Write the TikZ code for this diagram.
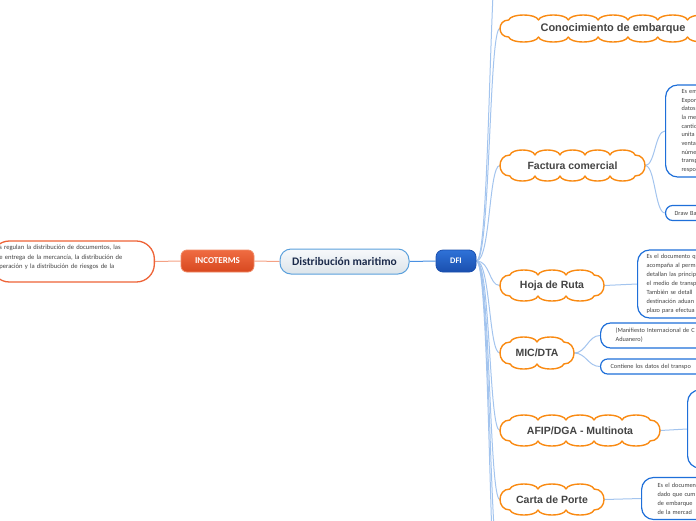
\documentclass[tikz,border=0pt]{standalone}
\usepackage{fontspec}
\setmainfont{Liberation Sans}
\newfontfamily\calfam{Carlito}
\usetikzlibrary{backgrounds}
\definecolor{cloudor}{HTML}{F98A12}
\definecolor{bluebd}{HTML}{1E6FD9}
\definecolor{linkbl}{HTML}{A3C4EE}
\definecolor{mainlk}{HTML}{4A90E2}
\definecolor{txtgray}{HTML}{444444}
\definecolor{incotop}{HTML}{EF6C42}
\definecolor{incobot}{HTML}{D8481F}
\definecolor{incobd}{HTML}{F08A66}
\definecolor{incoline}{HTML}{F4A184}
\definecolor{leftbd}{HTML}{EE6337}
\definecolor{maintop}{HTML}{F7F9FB}
\definecolor{mainbot}{HTML}{DCE4EA}
\definecolor{mainbd}{HTML}{5AA0DC}
\definecolor{maintxt}{HTML}{1B2A4A}
\definecolor{dfitop}{HTML}{2F72D8}
\definecolor{dfibot}{HTML}{1A4FAE}
% cloud outline: centre x, centre y, width, height, bumps per side
\newcommand\drawcloud[5]{%
 \pgfmathsetmacro\cdL{#1-#3/2+0.32*#4}%
 \pgfmathsetmacro\cdR{#1+#3/2-0.32*#4}%
 \pgfmathsetmacro\cdT{#2-#4/2+5}%
 \pgfmathsetmacro\cdB{#2+#4/2-5}%
 \pgfmathsetmacro\cdS{(\cdR-\cdL)/#5}%
 \pgfmathsetmacro\cdE{0.32*#4*1.333}%
 \filldraw[cloudline] (\cdL,\cdT)
   \foreach \i in {1,...,#5} { .. controls ({\cdL+(\i-1)*\cdS+0.08*\cdS},{\cdT-6.7}) and ({\cdL+\i*\cdS-0.08*\cdS},{\cdT-6.7}) .. ({\cdL+\i*\cdS},\cdT) }
   .. controls ({\cdR+\cdE},\cdT) and ({\cdR+\cdE},\cdB) .. (\cdR,\cdB)
   \foreach \i in {1,...,#5} { .. controls ({\cdR-(\i-1)*\cdS-0.08*\cdS},{\cdB+6.7}) and ({\cdR-\i*\cdS+0.08*\cdS},{\cdB+6.7}) .. ({\cdR-\i*\cdS},\cdB) }
   .. controls ({\cdL-\cdE},\cdB) and ({\cdL-\cdE},\cdT) .. (\cdL,\cdT) -- cycle;
}
\begin{document}
\begin{tikzpicture}[x=1pt,y=-1pt,
  cloudline/.style={draw=cloudor, line width=1.4pt, fill=white, line join=round},
  cltext/.style={rectangle, text=txtgray, inner sep=0pt, font=\bfseries\fontsize{10.5}{12}\selectfont},
  bbox/.style={draw=bluebd, line width=1.2pt, fill=white, anchor=west,
    align=left, text=txtgray, rounded corners=12pt, inner ysep=2pt,
    font=\calfam\fontsize{6.3}{9}\selectfont},
  lk/.style={draw=linkbl, line width=1pt},
  inconode/.style={rounded corners=6pt, top color=incotop, bottom color=incobot,
    draw=incobd, line width=0.8pt, text=white, minimum width=73pt, minimum height=22pt,
    font=\calfam\bfseries\fontsize{9}{11}\selectfont, inner sep=0pt},
  mainnode/.style={rounded corners=11pt, top color=maintop, bottom color=mainbot,
    draw=mainbd, line width=1pt, text=maintxt, minimum width=129pt, minimum height=25pt,
    font=\calfam\bfseries\fontsize{11.5}{13}\selectfont, inner sep=0pt},
  dfinode/.style={rounded corners=7pt, top color=dfitop, bottom color=dfibot,
    draw=dfibot, line width=0.8pt, text=white, minimum width=40pt, minimum height=22pt,
    font=\calfam\bfseries\fontsize{8.5}{10}\selectfont, inner sep=0pt},
  leftbox/.style={draw=leftbd, line width=1.3pt, rounded corners=18pt, fill=white,
    minimum height=41pt, inner xsep=8pt, inner ysep=1pt, text width=147pt, align=left,
    text=txtgray, font=\calfam\fontsize{6.6}{9.5}\selectfont}
]
\useasboundingbox (0,0) rectangle (696,520);
\clip (0,0) rectangle (696,520);

% left part
\node[leftbox, anchor=east] (incdesc) at (155,261.5)
  {s regulan la distribución de documentos, las\\e entrega de la mercancía, la distribución de\\peración y la distribución de riesgos de la\\\mbox{}};
\node[inconode] (inco) at (217.5,261) {INCOTERMS};
\node[mainnode] (main) at (344.5,261.5) {Distribución maritimo};
\node[dfinode] (dfi) at (456,261) {DFI};

% clouds
\drawcloud{613}{28.5}{226}{27}{7}
\node[cltext, minimum width=226pt, minimum height=27pt, font=\bfseries\fontsize{11}{12}\selectfont] (c1) at (613,28.5) {Conocimiento de embarque};
\drawcloud{572.5}{165.5}{145}{31}{5}
\node[cltext, minimum width=145pt, minimum height=31pt] (c2) at (572.5,165.5) {Factura comercial};
\drawcloud{552}{285.5}{104}{31}{3}
\node[cltext, minimum width=104pt, minimum height=31pt] (c3) at (552,285.5) {Hoja de Ruta};
\drawcloud{537}{353}{74}{32}{2}
\node[cltext, minimum width=74pt, minimum height=32pt] (c4) at (537,353) {MIC/DTA};
\drawcloud{580}{430.5}{160}{31}{5}
\node[cltext, minimum width=160pt, minimum height=31pt] (c5) at (580,430.5) {AFIP/DGA - Multinota};
\drawcloud{552}{499.5}{104}{31}{3}
\node[cltext, minimum width=104pt, minimum height=31pt] (c6) at (552,499.5) {Carta de Porte};

\coordinate (up1) at (500,-70);
\coordinate (dn1) at (500,570);
\coordinate (dn2) at (500,640);

% blue boxes
\node[bbox, minimum height=92pt, inner xsep=16pt, text width=60pt, font=\calfam\fontsize{6.3}{8.7}\selectfont] (fbig) at (665,131)
  {Es em\\Expor\\datos\\la me\\cantid\\unita\\venta\\númer\\transp\\respo};
\node[bbox, minimum height=15pt, inner xsep=9pt, text width=40pt, rounded corners=7pt] (fdraw) at (665,213) {Draw Ba};
\node[bbox, minimum height=68pt, inner xsep=9pt, text width=80pt] (hbox) at (637,284)
  {Es el documento q\\acompaña al perm\\detallan las princip\\el medio de transp\\También se detall\\destinación aduan\\plazo para efectua};
\node[bbox, minimum height=25pt, inner xsep=15pt, text width=100pt, rounded corners=10pt] (m1) at (600,335.5)
  {(Manifiesto Internacional de C\\Aduanero)};
\node[bbox, minimum height=15pt, inner xsep=10pt, text width=100pt, rounded corners=7pt] (m2) at (600,366.5)
  {Contiene los datos del transpo};
\node[bbox, minimum height=78pt, inner xsep=10pt, text width=40pt] (abox) at (687,429) {};
\node[bbox, minimum height=42pt, inner xsep=16pt, text width=60pt] (cbox) at (641,498.5)
  {Es el documen\\dado que cum\\de embarque\\de la mercad};

\begin{scope}[on background layer]
\draw[draw=incoline, line width=1pt] (incdesc.east) -- (inco.west);
\draw[draw=incoline, line width=1pt] (inco.east) -- (main.west);
\draw[draw=mainlk, line width=1pt] (main.east) -- (dfi.west);
\foreach \t in {up1,c1,c2,c3,c4,c5,c6,dn1,dn2}
  \draw[lk] (dfi.east) .. controls +(14,0) and +(-11,0) .. (\t.west);
\draw[lk] (c2.east) .. controls +(10,0) and +(-10,0) .. (fbig.west);
\draw[lk] (c2.east) .. controls +(10,0) and +(-10,0) .. (fdraw.west);
\draw[lk] (c3.east) -- (hbox.west);
\draw[lk] (c4.east) .. controls +(12,0) and +(-12,0) .. (m1.west);
\draw[lk] (c4.east) .. controls +(12,0) and +(-12,0) .. (m2.west);
\draw[lk] (c5.east) -- (abox.west);
\draw[lk] (c6.east) -- (cbox.west);
\end{scope}
\end{tikzpicture}
\end{document}
